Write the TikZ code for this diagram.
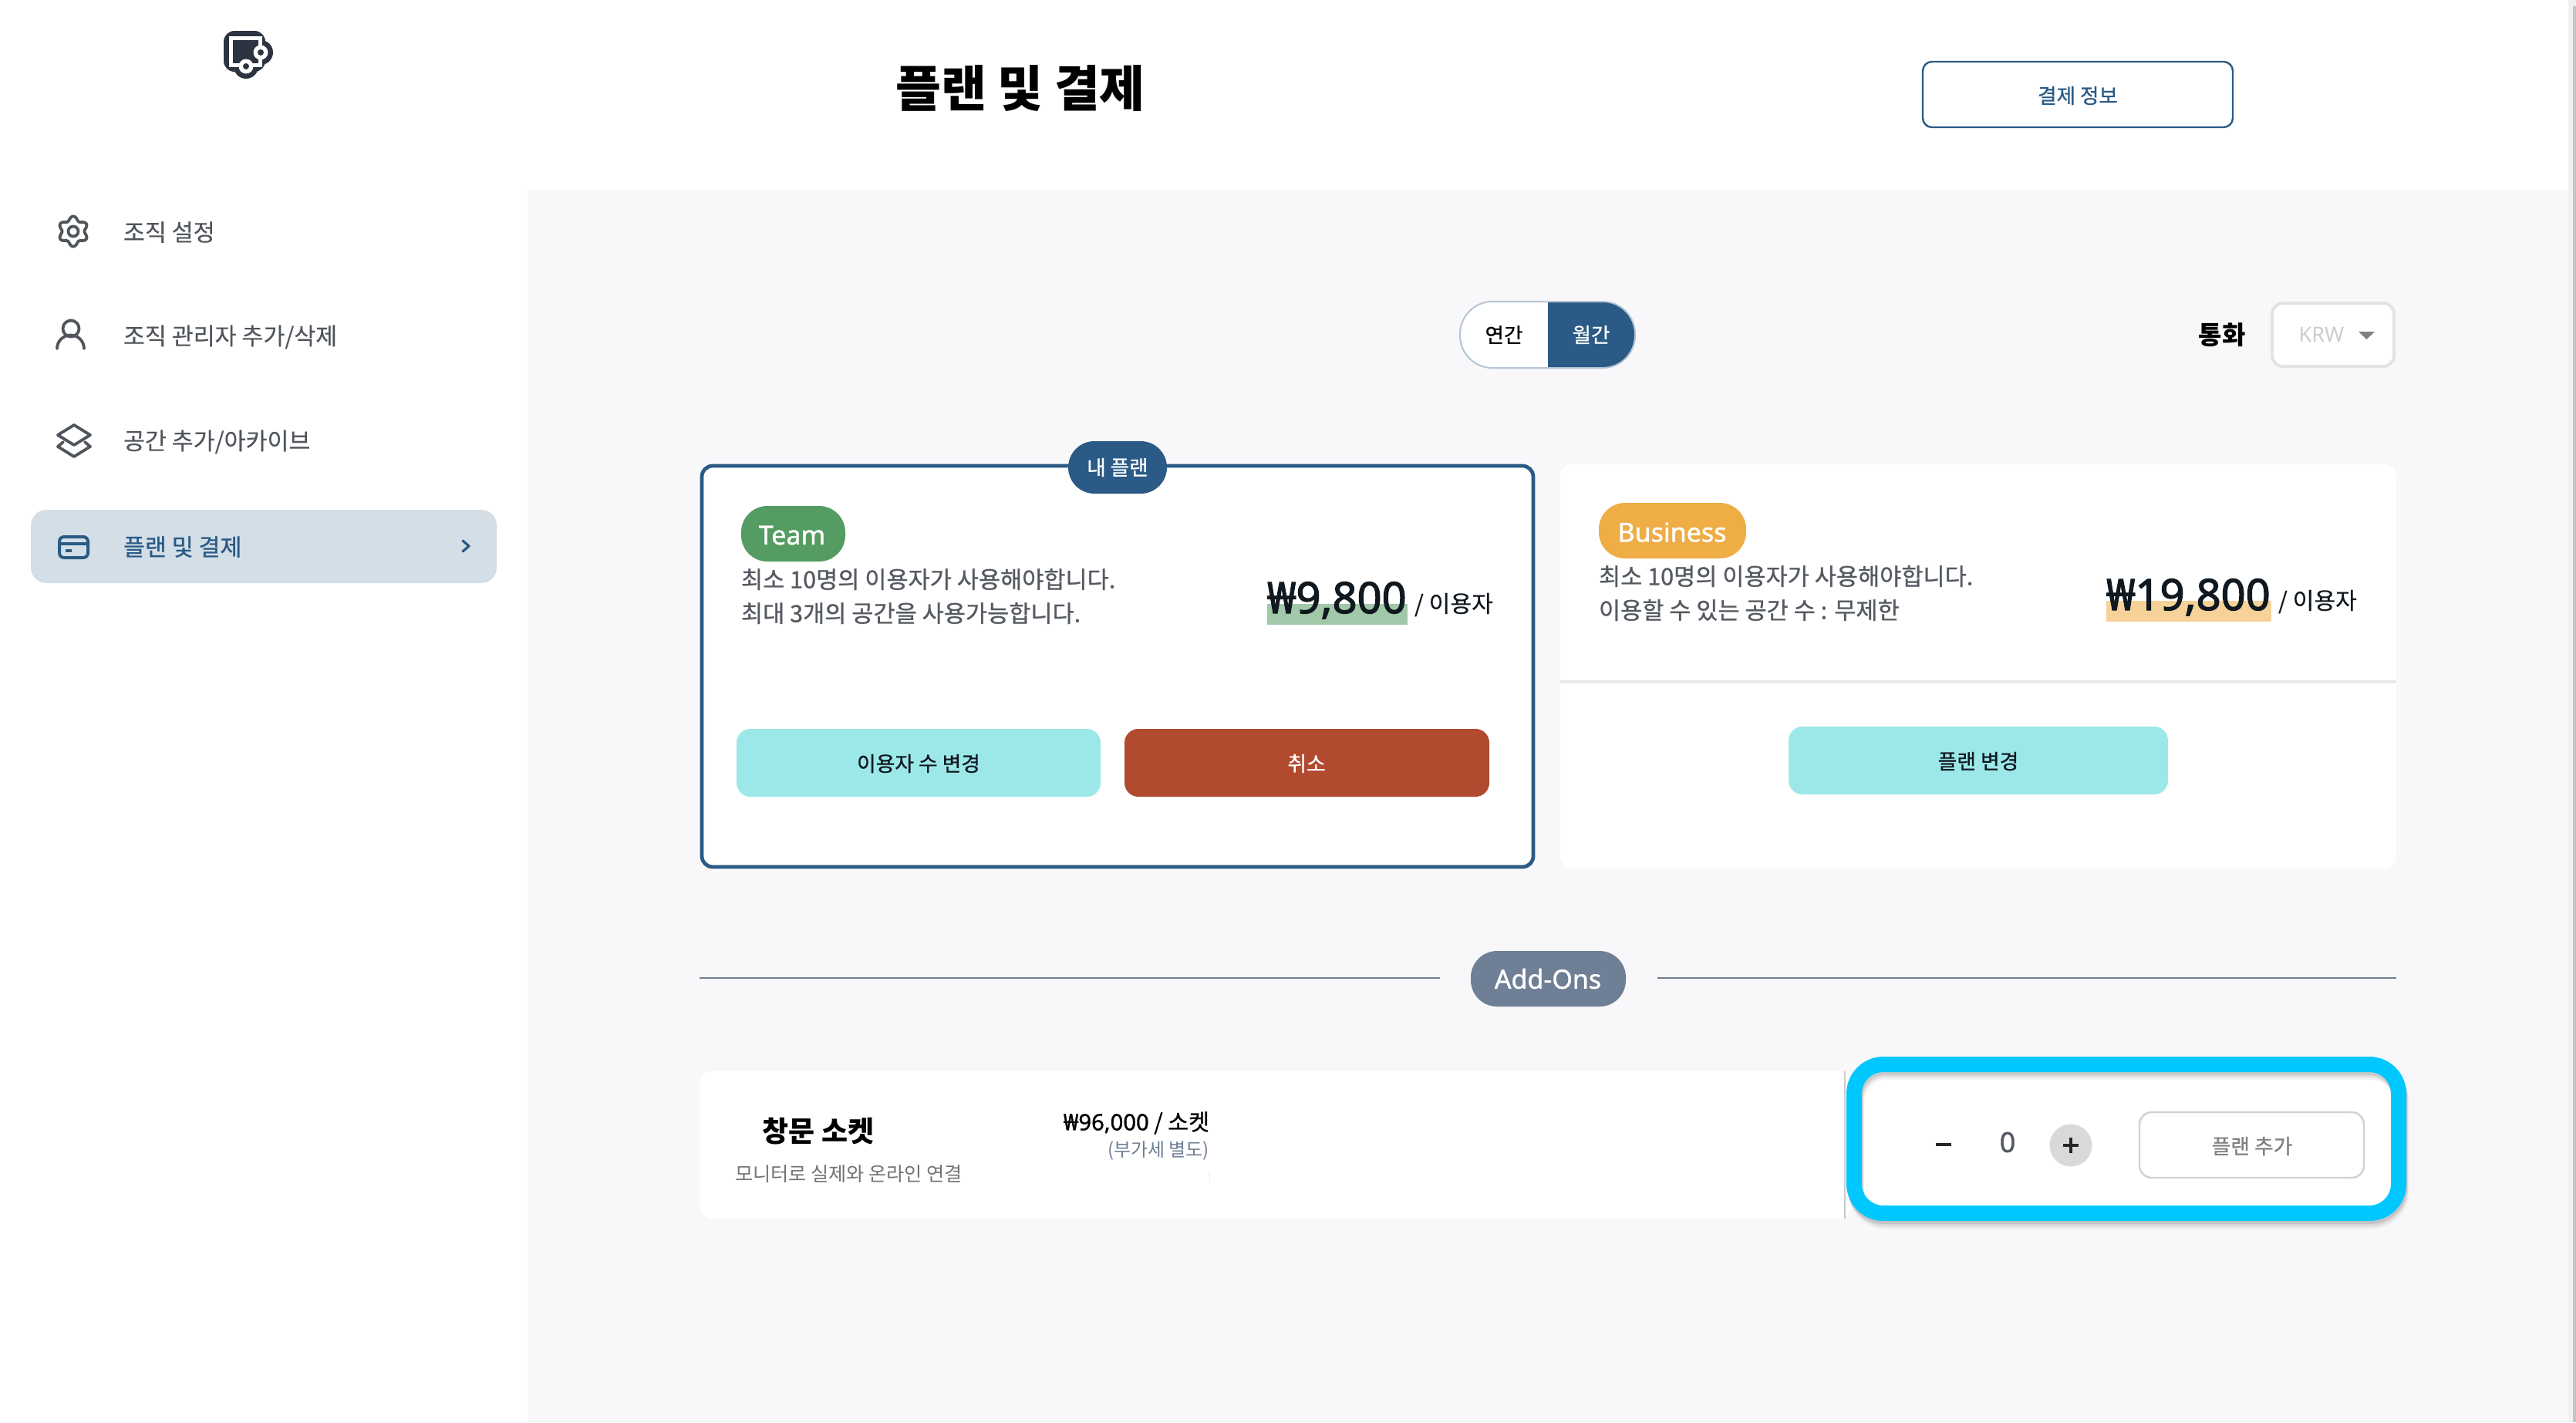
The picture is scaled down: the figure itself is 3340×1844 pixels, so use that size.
\documentclass[tikz,border=0pt]{standalone}
\usepackage{fontspec}
\setmainfont{Noto Sans CJK KR}
\newfontfamily\krf{Noto Sans CJK KR}
\newfontfamily\krl[FakeBold=0.3]{Noto Sans CJK KR}
\newfontfamily\krm[FakeBold=0.8]{Noto Sans CJK KR}
\newfontfamily\ens{Noto Sans}
\newfontfamily\enm[FakeBold=1.2]{Noto Sans}
\newfontfamily\enp[FakeBold=2.2]{Noto Sans}
\newcommand{\fsz}[1]{\fontsize{#1}{#1}\selectfont}
\definecolor{navy}{HTML}{2A5A85}
\definecolor{panel}{HTML}{F8F8FA}
\definecolor{sidetxt}{HTML}{50555C}
\definecolor{desctxt}{HTML}{555A62}
\definecolor{ink}{HTML}{101820}
\definecolor{aqua}{HTML}{9CE8E8}
\definecolor{rust}{HTML}{B14A2F}
\definecolor{teamg}{HTML}{549C62}
\definecolor{bizo}{HTML}{EEAD45}
\definecolor{slatec}{HTML}{6F7F95}
\definecolor{cyanb}{HTML}{00C8FF}
\definecolor{logoc}{HTML}{2B3440}
\tikzset{
  txt/.style={inner sep=0pt,outer sep=0pt},
  sideitem/.style={txt,anchor=west,text=sidetxt,font=\krl\fsz{15.2}},
  desc/.style={txt,anchor=west,text=desctxt,font=\krm\fsz{15.3}},
  btnlabel/.style={txt,font=\krm\fsz{13.4}},
  icon/.style={draw=sidetxt,line width=1.9pt,line cap=round,line join=round},
}
\begin{document}
\begin{tikzpicture}[x=0.5pt,y=-0.5pt]
\useasboundingbox (0,0) rectangle (3340,1844);
\fill[white] (0,0) rectangle (3340,1844);
\fill[panel] (684,246) rectangle (3330,1844);
% scrollbar
\fill[gray!12] (3330,0) rectangle (3340,1844);
\fill[black!23] (3336,8) rectangle (3340,1844);

% logo
\fill[logoc,rounded corners=7pt] (290,40) rectangle (344,93);
\fill[logoc] (338,68) circle (16);
\fill[logoc] (319,86) circle (16);
\draw[white,line width=2.5pt] (299.5,49) rectangle (337,84.5);
\fill[white] (338,68) circle (9.5);
\fill[white] (319,86) circle (9.5);
\fill[logoc] (338,68) circle (4);
\fill[logoc] (319,86) circle (4);

% side bar
\fill[navy!20!white,rounded corners=10pt] (40,661) rectangle (644,756);
\draw[icon] plot[domain=0:356,samples=90,smooth cycle] ({95+(17+2.6*cos(6*\x))*sin(\x)},{300+(17+2.6*cos(6*\x))*cos(\x)});
\draw[icon] (95,300) circle (6.5);
\draw[icon] (92,426) circle (10.5);
\draw[icon] (74,452) arc[start angle=180,end angle=360,radius=17.5];
\draw[icon] (96,551) -- (117,564) -- (96,577) -- (75,564) -- cycle;
\draw[icon] (82,573) -- (75,579) -- (96,592) -- (117,579) -- (110,573);
\draw[draw=navy,line width=2pt,rounded corners=3pt] (77,696) rectangle (114,723);
\draw[navy,line width=2pt] (77,705) -- (114,705);
\draw[navy,line width=2pt] (85,714) -- (93,714);
\draw[navy,line width=1.6pt,line cap=round,line join=round] (600,701) -- (608,708) -- (600,715);
\node[sideitem] (s1) at (160,301) {조직 설정};
\node[sideitem] (s2) at (160,437) {조직 관리자 추가/삭제};
\node[sideitem] (s3) at (160,573) {공간 추가/아카이브};
\node[sideitem,text=navy,font=\krm\fsz{15.2}] (s4) at (160,709) {플랜 및 결제};

% header
\node[txt,font=\krf\bfseries\fsz{32},text=black] (title) at (1323,114) {플랜 및 결제};
\draw[navy,line width=1.2pt,fill=white,rounded corners=6pt] (2493,80) rectangle (2895,165);
\node[txt,font=\krm\fsz{13.3},text=navy] (pay) at (2694,124) {결제 정보};

% toggle
\begin{scope}
\clip[rounded corners=21pt] (1893,391) rectangle (2120,477);
\fill[white] (1893,391) rectangle (2007,477);
\fill[navy] (2007,391) rectangle (2120,477);
\end{scope}
\draw[navy!35!white,line width=1pt,rounded corners=21pt] (1893,391) rectangle (2120,477);
\node[txt,font=\krm\fsz{13.3},text=black] (yr) at (1950,434) {연간};
\node[txt,font=\krm\fsz{13.3},text=white] (mo) at (2063,434) {월간};
\node[txt,font=\krf\bfseries\fsz{16.5},text=black] (cur) at (2881,434) {통화};
\draw[black!11,line width=2pt,fill=white,rounded corners=7pt] (2946,393) rectangle (3104,475);
\node[txt,font=\ens\fsz{13.5},text=black!20] (krw) at (3010,434) {KRW};
\fill[black!50] (3058,430) -- (3079,430) -- (3068.5,440) -- cycle;

% team card
\draw[navy,line width=2.4pt,fill=white,rounded corners=7pt] (910,604) rectangle (1988,1124);
\fill[navy,rounded corners=17pt] (1385,572) rectangle (1513,640);
\node[txt,font=\krm\fsz{13.3},text=white] (mine) at (1449,606) {내 플랜};
\fill[teamg,rounded corners=17pt] (961,656) rectangle (1096,728);
\node[txt,font=\enm\fsz{17},text=white] (team) at (1027,694) {Team};
\node[desc] (t1) at (961,751) {최소 10명의 이용자가 사용해야합니다.};
\node[desc] (t2) at (961,795) {최대 3개의 공간을 사용가능합니다.};
\fill[teamg!55!white] (1643,783) rectangle (1825,810);
\node[txt,anchor=base west,font=\enp\fsz{28},text=ink] (p1) at (1643,795) {₩9,800};
\node[txt,anchor=west,font=\krl\fsz{15.1},text=ink] (u1) at (1834,784) {/ 이용자};
\fill[aqua,rounded corners=9pt] (955,945) rectangle (1427,1033);
\node[btnlabel,text=ink] (b1) at (1191,990) {이용자 수 변경};
\fill[rust,rounded corners=9pt] (1458,945) rectangle (1931,1033);
\node[btnlabel,text=white] (b2) at (1694,990) {취소};

% business card
\fill[white,rounded corners=8pt] (2023,602) rectangle (3107,1126);
\fill[black!3!panel!93!gray] (2023,882) rectangle (3107,886);
\fill[bizo,rounded corners=17pt] (2073,652) rectangle (2264,724);
\node[txt,font=\enm\fsz{17},text=white] (biz) at (2168,690) {Business};
\node[desc] (t3) at (2073,747) {최소 10명의 이용자가 사용해야합니다.};
\node[desc] (t4) at (2073,791) {이용할 수 있는 공간 수 : 무제한};
\fill[bizo!55!white] (2731,779) rectangle (2945,806);
\node[txt,anchor=base west,font=\enp\fsz{28},text=ink] (p2) at (2731,791) {₩19,800};
\node[txt,anchor=west,font=\krl\fsz{15.1},text=ink] (u2) at (2954,780) {/ 이용자};
\fill[aqua,rounded corners=9pt] (2319,942) rectangle (2811,1030);
\node[btnlabel,text=ink] (b3) at (2565,987) {플랜 변경};

% add-ons
\draw[slatec,line width=1pt] (907,1268) -- (1867,1268);
\draw[slatec,line width=1pt] (2149,1268) -- (3107,1268);
\fill[slatec,rounded corners=17pt] (1907,1233) rectangle (2108,1305);
\node[txt,font=\enm\fsz{17},text=white] (addons) at (2007,1269) {Add-Ons};

\fill[white,rounded corners=8pt] (907,1389) rectangle (2400,1580);
\draw[black!20,line width=0.7pt] (2392,1389) -- (2392,1580);
\node[txt,font=\krf\bfseries\fsz{18.5},text=black] (sock) at (1061,1467) {창문 소켓};
\node[txt,anchor=west,font=\krf\fsz{12.6},text=black!55] (sockd) at (953,1522) {모니터로 실제와 온라인 연결};
\node[txt,anchor=east,font=\krm\fsz{14.6},text=black] (sockp) at (1568,1456) {{\enm ₩96,000} / 소켓};
\node[txt,anchor=east,font=\krf\fsz{12},text=slatec] (vat) at (1568,1492) {(부가세 별도)};
\draw[black!8,line width=0.5pt] (1568,1518) -- (1568,1533);

% highlighted controls
\fill[white,rounded corners=16pt] (2404,1380) rectangle (3110,1573);
\foreach \o/\a in {10/0.05,7/0.07,4/0.10}{
  \draw[black,opacity=\a,line width=10pt,rounded corners=19pt,shift={(\o*0.3,\o)}] (2404,1380) rectangle (3110,1573);
}
\draw[cyanb,line width=10pt,rounded corners=19pt] (2404,1380) rectangle (3110,1573);
\draw[black!85,line width=1.6pt] (2510,1484) -- (2530,1484);
\node[txt,font=\enm\fsz{18},text=desctxt] (zero) at (2603,1481) {0};
\fill[black!15] (2685,1485) circle (27.5);
\draw[black!85,line width=1.6pt] (2675,1485) -- (2695,1485) (2685,1475) -- (2685,1495);
\draw[black!18,line width=1.2pt,fill=white,rounded corners=8pt] (2774,1442) rectangle (3065,1527);
\node[txt,font=\krm\fsz{13.4},text=black!50] (addplan) at (2920,1486) {플랜 추가};
\end{tikzpicture}
\end{document}
